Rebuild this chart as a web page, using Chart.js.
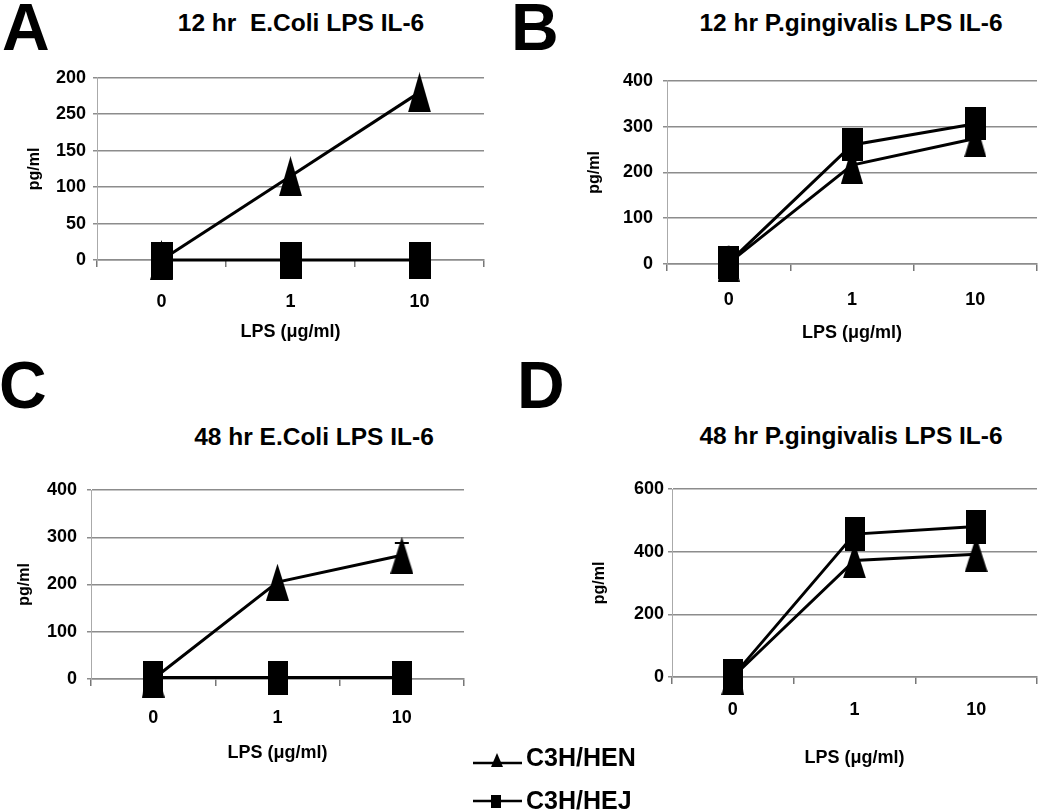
<!DOCTYPE html>
<html><head><meta charset="utf-8">
<script src="https://cdn.jsdelivr.net/npm/chart.js@4.4.0/dist/chart.umd.min.js"></script>
<style>
body{margin:0;background:#fff;width:1050px;height:812px;overflow:hidden;position:relative;font-family:"Liberation Sans",Arial,sans-serif;color:#000;}
canvas{position:absolute;}
.letter{position:absolute;font-weight:bold;font-size:66px;line-height:66px;}
.title{position:absolute;font-weight:bold;font-size:24.5px;line-height:24.5px;white-space:pre;transform:translateX(-50%);}
.legtxt{position:absolute;font-weight:bold;font-size:25px;line-height:25px;white-space:pre;}
svg{position:absolute;}
</style></head>
<body>
<div class="letter" style="left:2px;top:-6px">A</div>
<div class="letter" style="left:511px;top:-6px">B</div>
<div class="letter" style="left:-1px;top:352px">C</div>
<div class="letter" style="left:517px;top:352px">D</div>
<div class="title" style="left:301px;top:11px">12 hr  E.Coli LPS IL-6</div>
<div class="title" style="left:851px;top:11px">12 hr P.gingivalis LPS IL-6</div>
<div class="title" style="left:314px;top:425px">48 hr E.Coli LPS IL-6</div>
<div class="title" style="left:851px;top:424px">48 hr P.gingivalis LPS IL-6</div>

<canvas id="cA" width="500" height="300" style="left:0;top:60px;width:500px;height:300px"></canvas>
<canvas id="cB" width="530" height="300" style="left:520px;top:60px;width:530px;height:300px"></canvas>
<canvas id="cC" width="500" height="340" style="left:0;top:440px;width:500px;height:340px"></canvas>
<canvas id="cD" width="530" height="340" style="left:520px;top:440px;width:530px;height:340px"></canvas>

<svg width="60" height="75" style="left:470px;top:740px">
  <line x1="3" y1="23" x2="52" y2="23" stroke="#000" stroke-width="2.5"/>
  <polygon points="27,13 33,27 21,27" fill="#000"/>
  <line x1="3" y1="61" x2="52" y2="61" stroke="#000" stroke-width="2.5"/>
  <rect x="21" y="55" width="10" height="13" fill="#000"/>
</svg>
<div class="legtxt" style="left:526px;top:745px">C3H/HEN</div>
<div class="legtxt" style="left:526px;top:788px">C3H/HEJ</div>

<script>
// ---- data ----
const categories = ['0', '1', '10'];
const seriesNames = ['C3H/HEN', 'C3H/HEJ'];
const ticksA = ['0', '50', '100', '150', '250', '200'];
const ticksB = ['0', '100', '200', '300', '400'];
const ticksC = ['0', '100', '200', '300', '400'];
const ticksD = ['0', '200', '400', '600'];
const henA = [0, 115, 230];
const hejA = [0, 0, 0];
const henB = [2, 216, 274];
const hejB = [3, 260, 306];
const henC = [0, 205, 262];
const hejC = [3, 3, 3];
const errHenC = [0, 0, 26];
const henD = [0, 372, 392];
const hejD = [2, 456, 480];

const FONT = '"Liberation Sans", Arial, sans-serif';

function marker(kind, w, h) {
  const c = document.createElement('canvas');
  c.width = w; c.height = h;
  const g = c.getContext('2d');
  g.fillStyle = '#000';
  if (kind === 'tri') {
    g.beginPath(); g.moveTo(w / 2, 0); g.lineTo(w, h); g.lineTo(0, h); g.closePath(); g.fill();
  } else {
    g.fillRect(0, 0, w, h);
  }
  return c;
}

const errorBarPlugin = {
  id: 'errorBars',
  afterDatasetsDraw(chart, args, opts) {
    if (!opts || !opts.values) return;
    const ds = chart.data.datasets[opts.datasetIndex];
    const x = chart.scales.x, y = chart.scales.y, ctx = chart.ctx;
    ctx.save();
    ctx.strokeStyle = '#000';
    ctx.lineWidth = 2;
    opts.values.forEach((e, i) => {
      if (!e) return;
      const px = x.getPixelForValue(i);
      const p0 = y.getPixelForValue(ds.data[i]);
      const p1 = y.getPixelForValue(ds.data[i] + e);
      ctx.beginPath();
      ctx.moveTo(px, p0); ctx.lineTo(px, p1);
      ctx.moveTo(px - 7, p1); ctx.lineTo(px + 7, p1);
      ctx.stroke();
    });
    ctx.restore();
  }
};

function panel(id, hen, hej, yMax, yStep, tickLabels, lay, errOpts) {
  return new Chart(document.getElementById(id), {
    type: 'line',
    data: {
      labels: categories,
      datasets: [
        { label: seriesNames[0], data: hen, order: 1, borderColor: '#000', backgroundColor: '#000',
          borderWidth: 3, pointStyle: marker('tri', lay.tw, lay.th), pointRadius: 10, pointHoverRadius: 10,
          clip: false, tension: 0, fill: false },
        { label: seriesNames[1], data: hej, order: 0, borderColor: '#000', backgroundColor: '#000',
          borderWidth: 3, pointStyle: marker('sq', lay.sw, lay.sh), pointRadius: 10, pointHoverRadius: 10,
          clip: false, tension: 0, fill: false }
      ]
    },
    options: {
      responsive: false, animation: false, devicePixelRatio: 1,
      layout: { padding: lay.pad },
      plugins: { legend: { display: false }, tooltip: { enabled: false }, title: { display: false },
                 errorBars: errOpts || {} },
      scales: {
        x: {
          type: 'category', offset: true,
          grid: { offset: true, drawOnChartArea: false, drawTicks: true, tickLength: 7, color: '#777', lineWidth: 1.5 },
          border: { display: true, color: '#8c8c8c', width: 1.5 },
          ticks: { color: '#000', font: { family: FONT, size: 18, weight: 'bold' }, padding: lay.xpad, maxRotation: 0, autoSkip: false },
          title: { display: true, text: 'LPS (μg/ml)', color: '#000', font: { family: FONT, size: 18, weight: 'bold' }, padding: { top: 4, bottom: 4 } },
          afterFit: s => { s.height = lay.xh; }
        },
        y: {
          min: 0, max: yMax,
          ticks: { stepSize: yStep, color: '#000', font: { family: FONT, size: 18, weight: 'bold' }, padding: lay.ypad,
                   callback: (v, i) => tickLabels[i] },
          grid: { color: '#8c8c8c', lineWidth: 1.5, tickLength: 4, drawTicks: true },
          border: { display: true, color: '#aaa', width: 1 },
          title: { display: true, text: 'pg/ml', color: '#000', font: { family: FONT, size: 16, weight: 'bold' }, padding: { top: 4, bottom: 4 } },
          afterFit: s => { s.width = lay.yw; }
        }
      }
    },
    plugins: [errorBarPlugin]
  });
}

panel('cA', henA, hejA, 250, 50, ticksA,
  { pad: { left: 21, right: 16, top: 17, bottom: 13.2 }, yw: 76, xh: 86.8, xpad: 24, ypad: 7, tw: 23, th: 40, sw: 22, sh: 37 });
panel('cB', henB, hejB, 400, 100, ticksB,
  { pad: { left: 61.4, right: 3, top: 17, bottom: 12.2 }, yw: 85.6, xh: 83.8, xpad: 18, ypad: 10, tw: 22, th: 37, sw: 21, sh: 33 });
panel('cC', henC, hejC, 400, 100, ticksC,
  { pad: { left: 11.4, right: 36, top: 50, bottom: 12.2 }, yw: 79.6, xh: 88.8, xpad: 21, ypad: 10, tw: 23, th: 37, sw: 20, sh: 34 },
  { datasetIndex: 0, values: errHenC });
panel('cD', henD, hejD, 600, 200, ticksD,
  { pad: { left: 66.4, right: 3, top: 49, bottom: 7.2 }, yw: 85.6, xh: 95.8, xpad: 15, ypad: 4, tw: 23, th: 36, sw: 20, sh: 34 });
</script>
</body></html>
